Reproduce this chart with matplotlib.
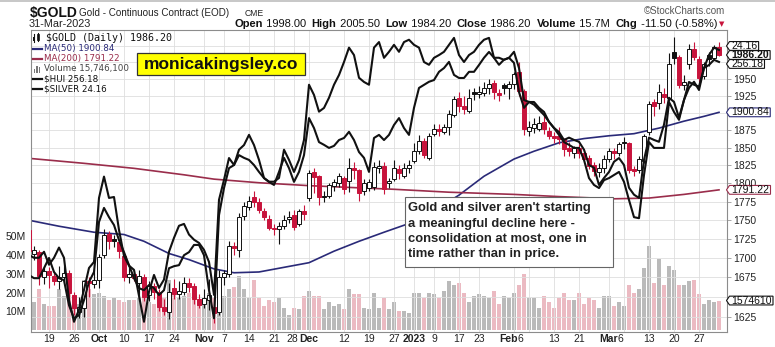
import matplotlib
matplotlib.use("Agg")
import matplotlib.pyplot as plt
import matplotlib.ticker as mticker
from matplotlib.patches import Polygon, Rectangle
from matplotlib.lines import Line2D
import numpy as np
import pandas as pd

plt.rcParams["font.family"] = ["Liberation Sans", "DejaVu Sans"]

# trading sessions, CME holidays removed
holidays = ["2022-11-24", "2022-12-26", "2023-01-02", "2023-01-16", "2023-02-20"]
days = pd.bdate_range("2022-09-13", "2023-03-31")
days = days[~days.isin(pd.to_datetime(holidays))]

opens = [1737, 1705, 1708, 1675, 1683, 1677, 1670, 1676, 1681, 1652,
         1631, 1636, 1670, 1666, 1672, 1704, 1732, 1725, 1721, 1703,
         1675, 1680, 1668, 1676, 1652, 1664, 1656, 1637, 1631, 1662,
         1654, 1657, 1668, 1664, 1648, 1641, 1646, 1638, 1631, 1676,
         1680, 1716, 1710, 1756, 1768, 1782, 1775, 1762, 1752, 1740,
         1738, 1742, 1752, 1757, 1745, 1763, 1780, 1816, 1810, 1783,
         1783, 1796, 1800, 1808, 1803, 1822, 1818, 1789, 1794, 1795,
         1821, 1824, 1800, 1806, 1820, 1811, 1822, 1831, 1845, 1860,
         1836, 1870, 1877, 1873, 1879, 1897, 1922, 1910, 1903, 1931,
         1928, 1929, 1936, 1944, 1929, 1941, 1937, 1943, 1961, 1932,
         1874, 1878, 1877, 1887, 1874, 1866, 1866, 1862, 1850, 1842,
         1849, 1843, 1836, 1826, 1816, 1822, 1834, 1846, 1843, 1858,
         1856, 1820, 1818, 1831, 1873, 1916, 1914, 1928, 1922, 1990,
         1983, 1941, 1972, 1995, 1980, 1955, 1986, 1981, 1998.0]
highs = [1742, 1716, 1710, 1688, 1688, 1682, 1690, 1690, 1684, 1656,
         1650, 1672, 1675, 1686, 1705, 1738, 1735, 1730, 1724, 1706,
         1690, 1685, 1685, 1680, 1670, 1668, 1660, 1648, 1668, 1673,
         1670, 1675, 1674, 1668, 1654, 1660, 1673, 1641, 1685, 1684,
         1722, 1721, 1760, 1775, 1783, 1790, 1780, 1766, 1757, 1745,
         1748, 1757, 1762, 1764, 1765, 1770, 1818, 1822, 1812, 1789,
         1800, 1806, 1815, 1810, 1836, 1830, 1820, 1806, 1806, 1830,
         1833, 1830, 1808, 1833, 1825, 1828, 1833, 1856, 1868, 1864,
         1871, 1884, 1884, 1884, 1904, 1925, 1930, 1925, 1935, 1937,
         1940, 1945, 1950, 1949, 1935, 1944, 1947, 1960, 1975, 1935,
         1888, 1892, 1896, 1900, 1880, 1872, 1880, 1864, 1858, 1852,
         1855, 1848, 1840, 1830, 1828, 1840, 1850, 1850, 1858, 1865,
         1858, 1824, 1838, 1870, 1917, 1920, 1942, 1937, 1989, 2014,
         1986, 1956, 2003, 2006, 1985, 1975, 1990, 2002, 2005.5]
lows = [1702, 1697, 1665, 1667, 1661, 1665, 1660, 1668, 1643, 1627,
        1624, 1625, 1650, 1662, 1662, 1700, 1712, 1714, 1700, 1670,
        1668, 1670, 1645, 1645, 1645, 1648, 1632, 1627, 1622, 1648,
        1648, 1652, 1656, 1641, 1636, 1636, 1634, 1618, 1628, 1665,
        1675, 1704, 1702, 1750, 1764, 1768, 1760, 1750, 1737, 1730,
        1718, 1738, 1746, 1737, 1742, 1750, 1776, 1787, 1770, 1775,
        1780, 1790, 1795, 1786, 1788, 1806, 1776, 1784, 1790, 1791,
        1815, 1785, 1794, 1803, 1806, 1808, 1815, 1828, 1841, 1835,
        1833, 1866, 1867, 1870, 1868, 1894, 1902, 1898, 1900, 1919,
        1922, 1925, 1927, 1920, 1918, 1928, 1920, 1935, 1925, 1868,
        1867, 1871, 1874, 1870, 1862, 1857, 1855, 1838, 1838, 1836,
        1836, 1832, 1820, 1810, 1809, 1815, 1830, 1834, 1838, 1848,
        1815, 1810, 1815, 1828, 1868, 1895, 1905, 1915, 1918, 1972,
        1936, 1934, 1965, 1978, 1945, 1950, 1970, 1978, 1984.2]
closes = [1709, 1711, 1677, 1683, 1678, 1671, 1675, 1681, 1655, 1636,
          1638, 1670, 1668, 1672, 1702, 1730, 1722, 1723, 1709, 1675,
          1680, 1674, 1677, 1650, 1664, 1656, 1637, 1632, 1657, 1654,
          1658, 1668, 1663, 1648, 1640, 1649, 1652, 1630, 1676, 1681,
          1716, 1713, 1754, 1769, 1776, 1775, 1764, 1754, 1740, 1738,
          1742, 1751, 1755, 1741, 1762, 1759, 1815, 1809, 1781, 1782,
          1798, 1802, 1810, 1792, 1822, 1818, 1787, 1800, 1802, 1823,
          1824, 1793, 1804, 1822, 1815, 1822, 1826, 1846, 1859, 1840,
          1866, 1876, 1874, 1879, 1898, 1921, 1910, 1906, 1922, 1927,
          1931, 1936, 1942, 1930, 1926, 1937, 1942, 1958, 1932, 1876,
          1880, 1884, 1886, 1876, 1866, 1864, 1862, 1848, 1846, 1849,
          1842, 1834, 1824, 1817, 1821, 1834, 1845, 1843, 1855, 1856,
          1818, 1817, 1834, 1867, 1913, 1910, 1931, 1923, 1973, 1982,
          1941, 1946, 1995, 1983, 1952, 1973, 1980, 1997.7, 1986.2]
# volume in millions of contracts
volume_m = [23, 15, 22, 14, 13, 13, 22, 18, 20, 16,
            14, 27, 22, 19, 20, 18, 16, 17, 16, 15,
            16, 16, 17, 20, 15, 14, 18, 17, 27, 22,
            17, 18, 20, 17, 16, 17, 20, 17, 28, 18,
            22, 23, 29, 22, 17, 27, 17, 13, 16, 15,
            17, 12, 8, 12, 11, 18, 21, 18, 18, 11,
            15, 13, 14, 11, 22, 19, 19, 12, 11, 20,
            12, 17, 11, 15, 10, 10, 9, 20, 20, 17,
            20, 19, 17, 21, 26, 24, 25, 20, 15, 18,
            19, 18, 17, 21, 14, 18, 17, 20, 24, 30,
            17, 17, 12, 18, 15, 12, 17, 20, 16, 16,
            20, 14, 17, 16, 12, 18, 18, 13, 15, 13,
            24, 20, 22, 33, 45, 25, 38, 24, 34, 32,
            24, 24, 26, 27, 19, 14, 16, 15, 15.7461]
hui = [194.0, 193.1, 193.1, 196.0, 199.0, 194.9, 193.1, 192.5, 185.2, 181.4,
       182.3, 186.7, 192.0, 194.9, 209.5, 213.6, 210.9, 208.6, 204.2, 200.7,
       196.9, 193.1, 190.2, 189.6, 191.1, 190.2, 188.2, 189.6, 196.0, 196.6,
       196.9, 199.8, 200.7, 202.8, 202.8, 199.8, 189.6, 181.4, 211.5, 219.4,
       225.2, 226.1, 229.0, 228.2, 227.6, 226.1, 224.1, 222.3, 221.2, 220.3,
       224.1, 228.2, 225.2, 221.2, 224.1, 229.0, 239.8, 236.9, 232.8, 232.0,
       231.1, 231.7, 233.4, 234.0, 235.8, 233.4, 229.9, 228.2, 224.1, 234.0,
       234.9, 233.4, 234.9, 237.8, 239.8, 236.9, 234.9, 242.8, 248.6, 249.5,
       250.4, 250.9, 253.3, 254.4, 256.2, 252.4, 251.5, 251.5, 253.3, 253.3,
       255.3, 257.4, 259.1, 257.4, 257.4, 256.8, 257.4, 255.9, 247.4, 242.8,
       244.5, 244.5, 242.8, 241.6, 238.7, 236.9, 234.9, 232.8, 232.0, 231.1,
       231.1, 227.6, 222.3, 220.3, 219.4, 221.7, 222.3, 223.2, 224.1, 221.2,
       215.9, 210.9, 210.6, 223.2, 232.8, 231.1, 231.1, 231.1, 244.5, 241.6,
       239.3, 245.1, 248.6, 250.4, 248.0, 254.4, 255.3, 256.8, 256.18]
silver = [19.74, 19.68, 19.68, 19.81, 19.53, 19.68, 19.90, 19.68, 18.77, 18.30,
          18.56, 18.99, 19.46, 19.59, 20.97, 21.43, 20.97, 20.99, 20.28, 19.72,
          19.51, 19.42, 18.86, 18.30, 18.95, 19.31, 19.03, 19.21, 19.81, 20.11,
          20.37, 20.41, 20.18, 20.07, 20.00, 19.85, 19.59, 18.88, 20.93, 21.36,
          21.83, 21.68, 22.01, 22.11, 22.33, 22.11, 21.79, 21.40, 21.32, 21.32,
          21.40, 22.01, 21.79, 21.53, 21.79, 22.22, 23.41, 23.19, 22.83, 22.91,
          23.13, 23.41, 23.62, 23.90, 24.21, 24.05, 23.56, 23.47, 23.41, 24.21,
          24.33, 23.99, 24.12, 24.27, 24.12, 24.33, 24.38, 24.27, 24.21, 23.90,
          23.84, 23.99, 24.05, 24.12, 24.27, 24.42, 24.05, 23.90, 24.05, 24.12,
          24.27, 24.38, 24.42, 23.99, 23.84, 23.95, 23.99, 24.12, 23.77, 23.08,
          23.04, 22.98, 22.87, 22.76, 22.61, 22.48, 22.39, 22.22, 22.27, 22.22,
          22.18, 22.01, 21.68, 21.62, 21.25, 21.40, 21.53, 21.75, 21.83, 21.68,
          21.19, 21.04, 20.97, 21.79, 22.27, 22.22, 22.18, 22.55, 23.13, 23.04,
          22.70, 23.08, 23.47, 23.41, 23.37, 23.77, 24.05, 24.21, 24.16]

ma50_dates = ["2022-09-13", "2022-09-21", "2022-09-30", "2022-10-10", "2022-10-14",
              "2022-10-21", "2022-10-27", "2022-11-03", "2022-11-09", "2022-11-16",
              "2022-11-23", "2022-12-01", "2022-12-08", "2022-12-15", "2022-12-22",
              "2023-01-03", "2023-01-09", "2023-01-17", "2023-01-24", "2023-02-01",
              "2023-02-07", "2023-02-14", "2023-02-22", "2023-03-01", "2023-03-08",
              "2023-03-15", "2023-03-22", "2023-03-28", "2023-03-31"]
ma50 = [1750, 1742, 1734, 1731, 1722, 1706, 1698, 1686, 1681, 1682,
        1688, 1694, 1709, 1722, 1734, 1748, 1763, 1784, 1810, 1834,
        1845, 1857, 1863, 1867, 1870, 1878, 1888, 1895, 1900.84]
ma200_dates = ["2022-09-13", "2022-09-28", "2022-10-12", "2022-10-26", "2022-11-03",
               "2022-11-16", "2022-12-01", "2022-12-15", "2022-12-27", "2023-01-12",
               "2023-02-01", "2023-02-14", "2023-03-02", "2023-03-13", "2023-03-22",
               "2023-03-31"]
ma200 = [1835, 1828, 1821, 1812, 1806, 1801, 1797, 1794, 1792, 1788,
         1785, 1782, 1779, 1780, 1785, 1791.22]

tick_dates = ["2022-09-19", "2022-09-26", "2022-10-03", "2022-10-10", "2022-10-17",
              "2022-10-24", "2022-11-01", "2022-11-07", "2022-11-14", "2022-11-21",
              "2022-11-28", "2022-12-01", "2022-12-12", "2022-12-19", "2022-12-27",
              "2023-01-03", "2023-01-09", "2023-01-17", "2023-01-23", "2023-02-01",
              "2023-02-06", "2023-02-13", "2023-02-21", "2023-03-01", "2023-03-06",
              "2023-03-13", "2023-03-20", "2023-03-27"]
tick_text = ["19", "26", "Oct", "10", "17", "24", "Nov", "7", "14", "21", "28", "Dec",
             "12", "19", "27", "2023", "9", "17", "23", "Feb", "6", "13", "21", "Mar",
             "6", "13", "20", "27"]

RED = "#c8143c"
PINK = "#ebbac2"
GREY = "#bababa"
NAVY = "#2a2a78"
MAROON = "#9a2d4b"
GRID = "#dedede"

W, H = 775, 347
fig = plt.figure(figsize=(W / 100, H / 100), dpi=100)


def fx(px):
    return px / W


def fy(py):
    return 1 - py / H


def pos(dates):
    return [days.get_loc(pd.Timestamp(d)) for d in dates]


o = np.array(opens, float)
h = np.array(highs, float)
lo = np.array(lows, float)
c = np.array(closes, float)
x = np.arange(len(days))
prev = np.r_[o[0], c[:-1]]
down = c < prev

L, R, T, B = 30.7, 726.7, 30.0, 332.0
axv = fig.add_axes([fx(L), fy(B), (R - L) / W, (B - T) / H])
ax = axv.twinx()
axs = ax.twinx()
axh = ax.twinx()
ax.yaxis.tick_right()
axv.yaxis.tick_left()

# volume underneath everything
axv.bar(x, volume_m, width=0.8, color=np.where(down, PINK, GREY), linewidth=0, zorder=1)
axv.set_ylim(-1.07, 160.4)
axv.set_yticks([10, 20, 30, 40, 50], ["10M", "20M", "30M", "40M", "50M"])
axv.tick_params(axis="y", length=0, labelsize=7.5, pad=3.5, labelcolor="#222")
for s in axv.spines.values():
    s.set_visible(False)

# price panel
ax.set_yscale("log")
ax.set_ylim(1606.4, 2024.6)
levels = list(range(1625, 2001, 25))
hidden = {1650, 1900, 1975, 2000}  # sit under the value tags
ax.yaxis.set_major_locator(mticker.FixedLocator(levels))
ax.yaxis.set_major_formatter(mticker.FixedFormatter(["" if v in hidden else str(v) for v in levels]))
ax.yaxis.set_minor_locator(mticker.NullLocator())
ax.tick_params(axis="y", which="both", left=False, labelleft=False, right=True, labelright=True,
               length=3, width=0.6, color="#999", labelsize=7.5, labelcolor="#222", pad=1.5)
ax.grid(axis="y", color=GRID, lw=0.6)
tick_pos = pos(tick_dates)
for k in tick_pos:
    ax.axvline(k, color=GRID, lw=0.6, zorder=1.5)
ax.set_xlim(0.34, 139.54)
ax.set_xticks([])
for s in ax.spines.values():
    s.set_color("#8c8c8c")
    s.set_linewidth(0.8)

ax.plot(pos(ma50_dates), ma50, color=NAVY, lw=1.2, zorder=2)
ax.plot(pos(ma200_dates), ma200, color=MAROON, lw=1.2, zorder=2)

# candlesticks: filled when close < open, red when close < previous close
col = np.where(down, RED, "#111111")
face = np.where(c < o, col, "white")
ax.vlines(x, lo, h, colors=col, lw=0.8, zorder=3)
body = np.maximum(np.abs(c - o), 0.9)
ax.bar(x, body, bottom=np.minimum(o, c), width=0.62, color=face, edgecolor=col, lw=0.7, zorder=4)

# overlays on their own hidden scales
axs.plot(x, silver, color="#111", lw=1.5, zorder=3)
axs.set_ylim(18.08, 24.59)
axs.axis("off")
axh.plot(x, hui, color="#111", lw=1.5, zorder=3)
axh.set_ylim(177.4, 265.5)
axh.axis("off")

# date labels
bold_ticks = {"Oct", "Nov", "Dec", "2023", "Feb", "Mar"}
shift = {10: -2, 19: -5.5, 20: -8.5, 24: -4}
for i, (k, t) in enumerate(zip(tick_pos, tick_text)):
    px = 29 + 5 * k + shift.get(i, 0)
    fig.text(fx(px), fy(338.5), t, ha="center", va="center", fontsize=7.5,
             fontweight="bold" if t in bold_ticks else "normal", color="#222")

fig.canvas.draw()
rend = fig.canvas.get_renderer()


def ypx(axis, v):
    return H - axis.transData.transform((0, v))[1]


def tag(yc, text, color, bold=False):
    t = fig.text(fx(731), fy(yc), text, ha="left", va="center", fontsize=7.5,
                 color="#111", fontweight="bold" if bold else "normal", zorder=6)
    w = t.get_window_extent(rend).width
    x1 = 731 + w + 1.5
    pts = [(726.5, yc), (729.5, yc - 4.4), (x1, yc - 4.4), (x1, yc + 4.4), (729.5, yc + 4.4)]
    fig.add_artist(Polygon([(fx(a), fy(b)) for a, b in pts], closed=True, fc="white",
                           ec=color, lw=0.8, transform=fig.transFigure, zorder=5))


tag(ypx(axs, silver[-1]) - 4, f"{silver[-1]:.2f}", "#111")
tag(ypx(ax, c[-1]), f"{c[-1]:.2f}", "#111", bold=True)
tag(ypx(axh, hui[-1]) + 2, f"{hui[-1]:.2f}", "#111")
tag(ypx(ax, ma50[-1]), f"{ma50[-1]:.2f}", NAVY)
tag(ypx(ax, ma200[-1]), f"{ma200[-1]:.2f}", MAROON)
tag(ypx(axv, volume_m[-1]), f"{round(volume_m[-1] * 1e6):d}"[:7], "#111")

# legend block
mono = ["DejaVu Sans Mono"]
fig.text(fx(46), fy(38), f"$GOLD (Daily) {c[-1]:.2f}", family=mono, fontsize=7.2,
         va="center", color="#111")
legend_rows = [(48.5, f"MA(50) {ma50[-1]:.2f}", NAVY),
               (58.5, f"MA(200) {ma200[-1]:.2f}", MAROON),
               (69.0, f"Volume {round(volume_m[-1] * 1e6):,d}", "#444"),
               (79.0, f"$HUI {hui[-1]:.2f}", "#111"),
               (89.0, f"$SILVER {silver[-1]:.2f}", "#111")]
for yy, txt, cc in legend_rows:
    fig.text(fx(43.5), fy(yy), txt, fontsize=6.3, va="center", color=cc, family=["DejaVu Sans"])
    if txt.startswith("Volume"):
        for bx, bh in [(33.5, 4), (36, 7), (38.5, 5)]:
            fig.add_artist(Rectangle((fx(bx), fy(yy + 3.5)), 1.8 / W, bh / H,
                                     transform=fig.transFigure, color="#777", lw=0))
    else:
        fig.add_artist(Line2D([fx(33), fx(41.5)], [fy(yy), fy(yy)], color=cc, lw=1.6,
                              transform=fig.transFigure))
fig.add_artist(Line2D([fx(33.5), fx(33.5)], [fy(34), fy(42)], color="#111", lw=0.8,
                      transform=fig.transFigure))
fig.add_artist(Rectangle((fx(32.5), fy(40.5)), 2 / W, 4 / H, transform=fig.transFigure,
                         color="#111", lw=0))
fig.add_artist(Line2D([fx(37.5), fx(37.5)], [fy(33), fy(41)], color="#111", lw=0.8,
                      transform=fig.transFigure))
fig.add_artist(Rectangle((fx(36.5), fy(39.5)), 2 / W, 5 / H, transform=fig.transFigure,
                         fc="white", ec="#111", lw=0.6))

# site banner
fig.add_artist(Rectangle((fx(137), fy(75)), 168 / W, 22 / H, transform=fig.transFigure,
                         fc="#ffff00", ec="#333", lw=0.9))
fig.text(fx(221), fy(64.5), "monicakingsley.co", ha="center", va="center",
         fontsize=12.5, fontweight="bold", color="#111")

# comment box
fig.add_artist(Rectangle((fx(405), fy(267)), 208 / W, 70 / H, transform=fig.transFigure,
                         fc="white", ec="#666", lw=0.8, zorder=5))
note = ["Gold and silver aren't starting", "a meaningful decline here -",
        "consolidation at most, one in", "time rather than in price."]
for i, line in enumerate(note):
    fig.text(fx(408.5), fy(208.5 + 15 * i), line, ha="left", va="center", fontsize=9.4,
             fontweight="bold", color="#222", zorder=6)

# header
fig.add_artist(Line2D([0, 1], [fy(0.5), fy(0.5)], color="#bdbdbd", lw=1.2,
                      transform=fig.transFigure))
fig.text(fx(30), fy(17), "$GOLD", fontsize=10, fontweight="bold", va="baseline", color="#111")
fig.text(fx(79), fy(15.5), "Gold - Continuous Contract (EOD)", fontsize=7.1, va="baseline",
         color="#222")
fig.text(fx(245), fy(15.5), "CME", fontsize=6.2, va="baseline", color="#222")
fig.text(fx(29), fy(27), days[-1].strftime("%d-%b-%Y"), fontsize=7.8, va="baseline",
         color="#222")
fig.text(fx(725), fy(14.5), "\u00a9StockCharts.com", fontsize=7, ha="right", va="baseline",
         color="#555")

chg = c[-1] - c[-2]
pieces = [("Open", True), (f" {o[-1]:.2f}", False), ("High", True), (f" {h[-1]:.2f}", False),
          ("Low", True), (f" {lo[-1]:.2f}", False), ("Close", True), (f" {c[-1]:.2f}", False),
          ("Volume", True), (f" {volume_m[-1]:.1f}M", False), ("Chg", True),
          (f" {chg:.2f} ({chg / c[-2] * 100:.2f}%)", False)]
cur = 717.0
for i, (txt, b) in enumerate(reversed(pieces)):
    t = fig.text(fx(cur), fy(26.8), txt, fontsize=8.0, ha="right", va="baseline",
                 fontweight="bold" if b else "normal", color="#111")
    cur -= t.get_window_extent(rend).width
    if b:
        cur -= 6
fig.text(fx(721.5), fy(26), "\u25bc", fontsize=5, ha="center", va="baseline", color=RED,
         family=["DejaVu Sans"])

fig.savefig("out.png", dpi=100)
